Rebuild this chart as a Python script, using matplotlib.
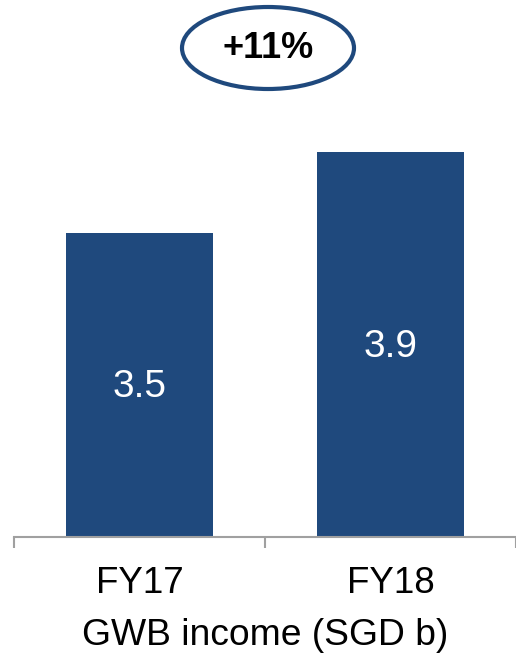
import matplotlib.pyplot as plt
from matplotlib.patches import Ellipse

years = ["FY17", "FY18"]
income = [3.5, 3.9]
growth_label = "+11%"
axis_title = "GWB income (SGD b)"

bar_color = "#1F497D"

plt.rcParams['font.family'] = ['Liberation Sans', 'DejaVu Sans']

fig = plt.figure(figsize=(5.16, 6.56), dpi=100)
ax = fig.add_axes([14 / 516, 119 / 656, 502 / 516, 437 / 656])

x = range(len(years))
bars = ax.bar(x, income, width=0.587, color=bar_color, bottom=0)
ax.set_ylim(2.0, 2.0 + 437 / 202.5)
ax.set_xlim(-0.5, len(years) - 0.5)

for b, v in zip(bars, income):
    ax.text(b.get_x() + b.get_width() / 2, (2.0 + v) / 2 - 0.01, f"{v:.1f}",
            ha="center", va="center", color="white", fontsize=28)

for s in ["top", "left", "right"]:
    ax.spines[s].set_visible(False)
ax.spines["bottom"].set_color("#A0A0A0")
ax.spines["bottom"].set_linewidth(1.5)
ax.set_yticks([])
ax.set_xticks(list(x))
ax.set_xticklabels(years, fontsize=26.5)
ax.tick_params(axis="x", which="major", length=0, pad=21)
ax.set_xticks([-0.5, 0.5, 1.5], minor=True)
ax.tick_params(axis="x", which="minor", length=8, width=1.5, color="#A0A0A0", direction="out")
ax.set_xlabel(axis_title, fontsize=26.8, labelpad=12)

# growth bubble
ell = Ellipse((268 / 516, 1 - 48 / 656), 172 / 516, 82 / 656, transform=fig.transFigure,
              facecolor="white", edgecolor=bar_color, linewidth=3)
fig.patches.append(ell)
fig.text(268 / 516, 1 - 49 / 656, growth_label, ha="center", va="center",
         fontsize=26, fontweight="bold", color="black")

fig.savefig("out.png", dpi=100)
